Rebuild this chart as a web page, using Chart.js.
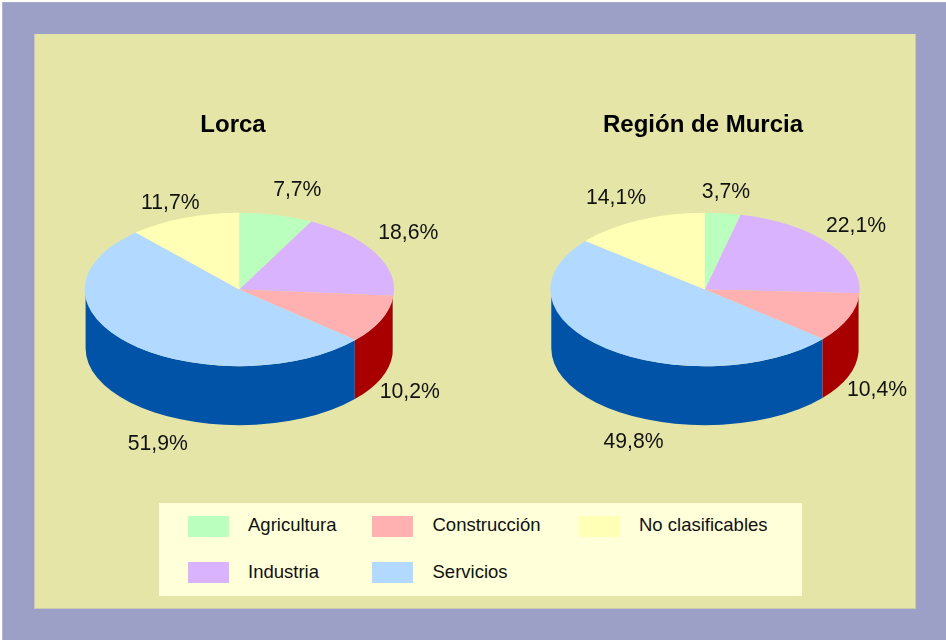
<!DOCTYPE html>
<html lang="es">
<head>
<meta charset="utf-8">
<title>Lorca y Región de Murcia</title>
<script src="https://cdn.jsdelivr.net/npm/chart.js@4/dist/chart.umd.min.js"></script>
<style>
  html,body{margin:0;padding:0;width:946px;height:642px;overflow:hidden;background:#fff;font-family:"Liberation Sans",Arial,sans-serif;}
  #frame{position:absolute;left:2px;top:2px;width:944px;height:638px;background:#9c9fc6;box-shadow:inset 1px 0 0 #b4b6d3,inset 0 1px 0 #a6a9cc;}
  #panel{position:absolute;left:34px;top:34px;width:882px;height:575px;background:#e5e5a7;box-shadow:inset 1px 0 0 #c9c9ad,inset -1px -1px 0 #c9c9ad;}
  canvas{position:absolute;top:0;}
  #c1{left:13px;} #c2{left:483px;}
  #legend{position:absolute;left:159px;top:503px;width:643px;height:93px;background:#ffffda;}
  .sw{position:absolute;width:41px;height:21px;}
  .lb{position:absolute;font-size:18.5px;line-height:22px;color:#111;white-space:nowrap;}
</style>
</head>
<body>
<div id="frame"></div>
<div id="panel"></div>
<canvas id="c1" width="440" height="480"></canvas>
<canvas id="c2" width="440" height="480"></canvas>
<div id="legend"></div>
<script>
const categories = ['Agricultura', 'Industria', 'Construcción', 'Servicios', 'No clasificables'];
const lorcaValues = [7.7, 18.6, 10.2, 51.9, 11.7];
const murciaValues = [3.7, 22.1, 10.4, 49.8, 14.1];
const topColors = ['#bbffbf', '#dab3ff', '#ffb0b0', '#b2d9ff', '#ffffb5'];
const sideColors = ['#5f9f63', '#7d55a8', '#a80000', '#0053a6', '#a8a860'];

const RX = 154.7, RY = 76.7, RX_WALL = 153.7, DEPTH = 59, CY = 289.5;

const pie3d = {
  id: 'pie3d',
  beforeDatasetsDraw(chart, args, o) {
    const ctx = chart.ctx, arcs = chart.getDatasetMeta(0).data;
    ctx.save();
    arcs.forEach((arc, i) => {
      const a = Math.max(arc.startAngle, 0), b = Math.min(arc.endAngle, Math.PI);
      if (b <= a) return;
      ctx.beginPath();
      ctx.ellipse(o.cx, CY, RX_WALL, RY, 0, a, b);
      ctx.ellipse(o.cx, CY + DEPTH, RX_WALL, RY, 0, b, a, true);
      ctx.closePath();
      ctx.fillStyle = sideColors[i];
      ctx.fill();
    });
    ctx.restore();
    ctx.save();
    const c = arcs[0];
    ctx.translate(o.cx, CY);
    ctx.scale(RX / c.outerRadius, RY / c.outerRadius);
    ctx.translate(-c.x, -c.y);
  },
  afterDatasetsDraw(chart) { chart.ctx.restore(); },
  afterDraw(chart, args, o) {
    const ctx = chart.ctx, values = chart.data.datasets[0].data;
    ctx.save();
    ctx.font = '21.2px "Liberation Sans", Arial, sans-serif';
    ctx.fillStyle = '#111';
    ctx.textAlign = 'center';
    ctx.textBaseline = 'middle';
    values.forEach((v, i) => {
      ctx.fillText(v.toFixed(1).replace('.', ',') + '%', o.cx + o.labelOffsets[i][0], CY + o.labelOffsets[i][1]);
    });
    ctx.restore();
  }
};

function makePie(id, title, values, cx, labelOffsets) {
  return new Chart(document.getElementById(id), {
    type: 'pie',
    data: { labels: categories, datasets: [{ data: values, backgroundColor: topColors, borderWidth: 0, radius: RX, clip: false }] },
    plugins: [pie3d],
    options: {
      responsive: false,
      animation: false,
      devicePixelRatio: 1,
      plugins: {
        legend: { display: false },
        tooltip: { enabled: false },
        title: {
          display: true, text: title, color: '#000',
          font: { family: '"Liberation Sans", Arial, sans-serif', size: 24, weight: 'bold' },
          padding: { top: 110.6, bottom: 0 }
        },
        pie3d: { cx, labelOffsets }
      }
    }
  });
}

makePie('c1', 'Lorca', lorcaValues, 226.3,
  [[58, -99], [169, -56.5], [170.5, 102.5], [-81.5, 154.5], [-69, -86.5]]);
makePie('c2', 'Región de Murcia', murciaValues, 222,
  [[21, -97], [151, -63], [172, 100.5], [-71.5, 152.5], [-89, -91.5]]);

const legendCols = [0, 1, 2, 0, 1];
const legendOrder = [0, 2, 4, 1, 3];
const swatchX = [29, 213, 420], textX = [89, 273.5, 480], rowY = [13, 59], textY = [11, 58];
const legend = document.getElementById('legend');
legendOrder.forEach((cat, n) => {
  const col = legendCols[n], row = n < 3 ? 0 : 1;
  const s = document.createElement('div');
  s.className = 'sw';
  s.style.cssText = `left:${swatchX[col]}px;top:${rowY[row]}px;background:${topColors[cat]}`;
  const t = document.createElement('div');
  t.className = 'lb';
  t.style.cssText = `left:${textX[col]}px;top:${textY[row]}px`;
  t.textContent = categories[cat];
  legend.append(s, t);
});
</script>
</body>
</html>
